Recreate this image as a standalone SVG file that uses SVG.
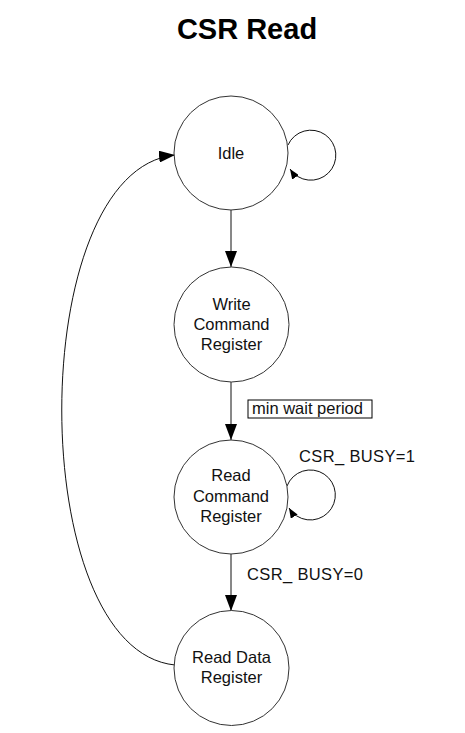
<svg xmlns="http://www.w3.org/2000/svg" width="465" height="733" viewBox="0 0 465 733">
<defs>
<style>
.node{fill:#fff;stroke:#333;stroke-width:1}
.lbl{font-family:"Liberation Sans",Arial,sans-serif;font-size:16.5px;fill:#111;text-anchor:middle}
.edge{fill:none;stroke:#111;stroke-width:1}
.elbl{font-family:"Liberation Sans",Arial,sans-serif;font-size:16.5px;fill:#111}
</style>
<marker id="big" markerUnits="userSpaceOnUse" markerWidth="16" markerHeight="12" refX="16" refY="6" orient="auto">
<path d="M0,0 L16,6 L0,12 z" fill="#000"/>
</marker>
<marker id="small" markerUnits="userSpaceOnUse" markerWidth="10" markerHeight="8" refX="10" refY="4" orient="auto">
<path d="M0,0 L10,4 L0,8 z" fill="#000"/>
</marker>
</defs>
<rect width="465" height="733" fill="#fff"/>
<text x="247" y="39" font-family="'Liberation Sans',Arial,sans-serif" font-size="29" font-weight="bold" text-anchor="middle" fill="#000">CSR Read</text>
<g id="connectors">
<line class="edge" x1="231" y1="210" x2="231" y2="267" marker-end="url(#big)"/>
<line class="edge" x1="231" y1="382" x2="231" y2="440" marker-end="url(#big)"/>
<line class="edge" x1="231" y1="553" x2="231" y2="611" marker-end="url(#big)"/>
<path class="edge" d="M288,145 A25,25 0 1 1 290,169" marker-end="url(#small)"/>
<path class="edge" d="M287,486 A25,25 0 1 1 289,508" marker-end="url(#small)"/>
<path class="edge" d="M175,665 C24,650 24,170 175,155" marker-end="url(#big)"/>
<rect x="248" y="400" width="124" height="18" fill="#fff" stroke="#000" stroke-width="1"/>
<text class="elbl" x="252" y="414">min wait period</text>
<text class="elbl" x="299" y="462" textLength="116" lengthAdjust="spacing">CSR_ BUSY=1</text>
<text class="elbl" x="247" y="580" textLength="116" lengthAdjust="spacing">CSR_ BUSY=0</text>
</g>
<g id="idle">
<circle class="node" cx="231" cy="153" r="57"/>
<text class="lbl" x="231" y="159">Idle</text>
</g>
<g id="write_cmd">
<circle class="node" cx="231.5" cy="324.5" r="57.5"/>
<text class="lbl" x="231.5" y="310">Write</text>
<text class="lbl" x="231.5" y="330">Command</text>
<text class="lbl" x="231.5" y="350">Register</text>
</g>
<g id="read_cmd">
<circle class="node" cx="231" cy="497" r="57"/>
<text class="lbl" x="231" y="481">Read</text>
<text class="lbl" x="231" y="502">Command</text>
<text class="lbl" x="231" y="522">Register</text>
</g>
<g id="read_data">
<circle class="node" cx="231.5" cy="668" r="57.5"/>
<text class="lbl" x="231.5" y="663">Read Data</text>
<text class="lbl" x="231.5" y="683">Register</text>
</g>
</svg>
